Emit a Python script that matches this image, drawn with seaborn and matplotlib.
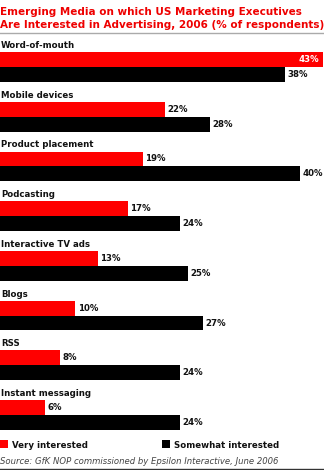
import matplotlib
matplotlib.use("Agg")
import matplotlib.pyplot as plt
import seaborn as sns
import pandas as pd
from matplotlib.patches import Rectangle
from matplotlib.lines import Line2D

categories = ["Word-of-mouth", "Mobile devices", "Product placement", "Podcasting",
              "Interactive TV ads", "Blogs", "RSS", "Instant messaging"]
very_interested = [43, 22, 19, 17, 13, 10, 8, 6]
somewhat_interested = [38, 28, 40, 24, 25, 27, 24, 24]
series_names = ["Very interested", "Somewhat interested"]
title_lines = ["Emerging Media on which US Marketing Executives",
               "Are Interested in Advertising, 2006 (% of respondents)"]
source_text = "Source: GfK NOP commissioned by Epsilon Interactive, June 2006"

RED = "#FF0000"
BLACK = "#000000"

df = pd.DataFrame({
    "category": categories * 2,
    "value": very_interested + somewhat_interested,
    "series": [series_names[0]] * len(categories) + [series_names[1]] * len(categories),
})

W, H = 324, 470
fig = plt.figure(figsize=(W / 100, H / 100), dpi=100)
ax = fig.add_axes([0, 0, 1, 1])
sns.barplot(data=df, y="category", x="value", hue="series", order=categories,
            hue_order=series_names, palette=[RED, BLACK], orient="h",
            width=0.6, saturation=1, ax=ax, legend=False, linewidth=0)

px_per_unit = (415 - 67) / 7.0
ytop = -67 / px_per_unit
ybot = 7 + (H - 415) / px_per_unit
ax.set_ylim(ybot, ytop)
ax.set_xlim(0, W / 7.5)
ax.axis("off")

def fy(p):
    return 1 - p / H

def fx(p):
    return p / W

font = "DejaVu Sans"
LBL = 6.2
# Title
fig.text(fx(0.5), fy(15), title_lines[0], color="#EE0000", fontsize=7.5, fontweight="bold",
         family=font, va="baseline", ha="left")
fig.text(fx(0.5), fy(28), title_lines[1], color="#EE0000", fontsize=7.5, fontweight="bold",
         family=font, va="baseline", ha="left")
fig.add_artist(Line2D([0, 1], [fy(33), fy(33)], color="#AAAAAA", lw=1.0, transform=fig.transFigure))

# Category labels and value labels
for i, cat in enumerate(categories):
    ax.text(0.1, i - 19 / px_per_unit, cat, fontsize=LBL, fontweight="bold", family=font,
            va="baseline", ha="left", color="#111111")

for bars, vals in zip(ax.containers, [very_interested, somewhat_interested]):
    for rect, v in zip(bars, vals):
        yc = rect.get_y() + rect.get_height() / 2
        xe = rect.get_width()
        if xe > 41:
            ax.text(xe - 0.4, yc, f"{v}%", color="white", fontsize=LBL, fontweight="bold",
                    family=font, va="center", ha="right")
        else:
            ax.text(xe + 0.35, yc, f"{v}%", color="#111111", fontsize=LBL, fontweight="bold",
                    family=font, va="center", ha="left")

# Legend
fig.add_artist(Rectangle((fx(0), fy(448)), fx(8), 8 / H, color=RED, lw=0, transform=fig.transFigure))
fig.text(fx(11.5), fy(447.5), series_names[0], fontsize=LBL, fontweight="bold", family=font,
         va="baseline", ha="left", color="#111111")
fig.add_artist(Rectangle((fx(162), fy(448)), fx(8), 8 / H, color=BLACK, lw=0, transform=fig.transFigure))
fig.text(fx(173.5), fy(447.5), series_names[1], fontsize=LBL, fontweight="bold", family=font,
         va="baseline", ha="left", color="#111111")

# Source
fig.text(fx(0.5), fy(464), source_text, fontsize=6.1, style="italic", family=font,
         va="baseline", ha="left", color="#444444")
fig.add_artist(Line2D([0, 1], [fy(468.5), fy(468.5)], color="#333333", lw=1.0, transform=fig.transFigure))

fig.savefig("out.png", dpi=100)
